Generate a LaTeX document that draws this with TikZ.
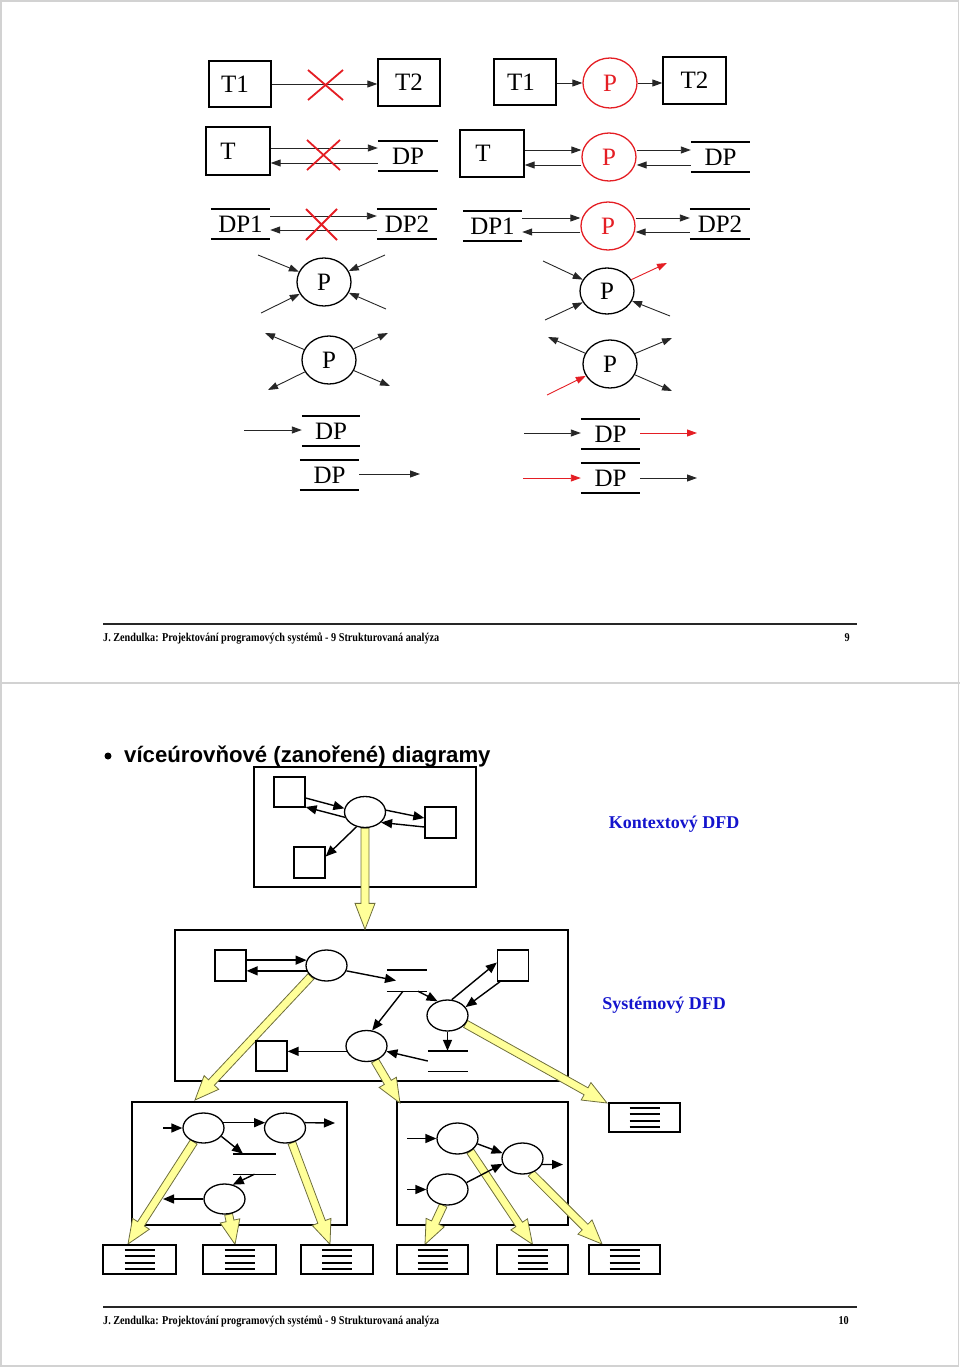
\documentclass[tikz,border=0pt]{standalone}
\usepackage{fontspec}
\setmainfont{Liberation Serif}
\newfontfamily\sansf{Liberation Sans}
\newfontfamily\footf[FakeStretch=0.85]{Liberation Serif}
\usetikzlibrary{arrows.meta,shapes.geometric,calc}
\definecolor{xred}{RGB}{228,30,36}
\definecolor{xblue}{RGB}{20,20,205}
\definecolor{yfill}{RGB}{255,255,153}
\definecolor{yline}{RGB}{110,110,60}
\pgfdeclarelayer{bg}
\pgfdeclarelayer{mid}
\pgfsetlayers{bg,mid,main}
\tikzset{
 big/.style={font=\fontsize{25}{25}\selectfont},
 tbox/.style={draw, line width=1.3pt, inner sep=0, big},
 redp/.style={ellipse, draw=xred, text=xred, line width=1.3pt, inner sep=0, minimum width=54pt, minimum height=48pt, big},
 blkp/.style={ellipse, draw, line width=1.3pt, inner sep=0, minimum width=54pt, minimum height=48pt, big},
 store/.style={inner sep=0, big},
 tarr/.style={line width=0.9pt, draw=black!85, -{Triangle[length=10pt,width=7pt]}},
 rarr/.style={tarr, draw=xred},
 xcr/.style={draw=xred, line width=1.8pt},
 sq/.style={draw, fill=white, line width=1.3pt, inner sep=0, minimum width=31pt, minimum height=30pt},
 ell/.style={ellipse, draw, fill=white, line width=1.3pt, inner sep=0, minimum width=41pt, minimum height=31pt},
 panel/.style={draw, line width=1.3pt, inner sep=0},
 barr/.style={line width=1.4pt, -{Triangle[length=11pt,width=9pt]}},
 rep/.style={draw, fill=white, line width=1.3pt, inner sep=0, minimum width=72pt, minimum height=29pt,
   path picture={\foreach \dy in {9.5,3.5,-3.5,-9.5}{\draw[line width=1.5pt] ([shift={(-15pt,\dy pt)}]path picture bounding box.center) -- ++(30pt,0pt);}}},
 foot/.style={font=\footf\bfseries\fontsize{12}{12}\selectfont, inner sep=0},
 blue/.style={font=\bfseries\fontsize{18}{18}\selectfont, text=xblue, inner sep=0},
}
\newcommand\stlines[2][1.8pt]{\draw[line width=#1] (#2.north west) -- (#2.north east) (#2.south west) -- (#2.south east);}
\newcommand\yarr[3][24pt]{%
 \path (#2) coordinate (ya) (#3) coordinate (yb);
 \path ($(yb)!#1!(ya)$) coordinate (yc);
 \filldraw[fill=yfill, draw=yline, line width=0.8pt] ($(ya)!4pt!90:(yb)$) -- ($(yc)!4pt!-90:(ya)$) -- ($(yc)!10pt!-90:(ya)$) -- (yb) -- ($(yc)!10pt!90:(ya)$) -- ($(yc)!4pt!90:(ya)$) -- ($(ya)!4pt!-90:(yb)$) -- cycle;
}
\begin{document}
\begin{tikzpicture}[x=1pt,y=-1pt]
\useasboundingbox (0,0) rectangle (960,1367);
\draw[gray!35, line width=1.5pt] (1,1) rectangle (958.5,1366);
\draw[gray!35, line width=1.5pt] (0,683) -- (960,683);

% ---------- slide 1 ----------
% row 1 left
\node[tbox, minimum width=62pt, minimum height=46pt] (a1) at (240,84) {T1\kern10pt};
\node[tbox, minimum width=62pt, minimum height=47pt] (a2) at (409,82.5) {T2};
\draw[tarr] (a1.east) -- (a1.east -| a2.west);
\draw[xcr] (308,70) -- (343,100) (308,100) -- (343,70);
% row 1 right
\node[tbox, minimum width=62pt, minimum height=46pt] (b1) at (525,82) {T1\kern8pt};
\node[redp, minimum height=50pt] (bp) at (610,83) {P};
\node[tbox, minimum width=63pt, minimum height=47pt] (b2) at (694.5,80.5) {T2};
\draw[tarr] (b1.east |- bp.west) -- (bp.west);
\draw[tarr] (bp.east) -- (bp.east -| b2.west);
% row 2 left
\node[tbox, minimum width=64pt, minimum height=48pt] (c1) at (238,151) {T\kern20pt};
\node[store, minimum width=60pt, minimum height=30pt] (c2) at (408,156) {DP}; \stlines{c2}
\draw[tarr] (c1.east |- 0,148) -- (c2.west |- 0,148);
\draw[tarr] (c2.west |- 0,163) -- (c1.east |- 0,163);
\draw[xcr] (307,140) -- (340,170) (307,170) -- (340,140);
% row 2 right
\node[tbox, minimum width=64pt, minimum height=47pt] (d1) at (492,153.5) {T\kern18pt};
\node[redp] (dp) at (609,157) {P};
\node[store, minimum width=59pt, minimum height=30pt] (d2) at (720.5,157) {DP}; \stlines{d2}
\draw[tarr] (d1.east |- 0,150) -- (dp.west |- 0,150);
\draw[tarr] (dp.west |- 0,165) -- (d1.east |- 0,165);
\draw[tarr] (dp.east |- 0,150) -- (d2.west |- 0,150);
\draw[tarr] (d2.west |- 0,165) -- (dp.east |- 0,165);
% row 3 left
\node[store, minimum width=59pt, minimum height=30pt] (e1) at (240.5,224) {DP1}; \stlines{e1}
\node[store, minimum width=60pt, minimum height=30pt] (e2) at (407,224) {DP2}; \stlines{e2}
\draw[tarr] (e1.east |- 0,216) -- (e2.west |- 0,216);
\draw[tarr] (e2.west |- 0,230) -- (e1.east |- 0,230);
\draw[xcr] (306,209) -- (337,240) (306,240) -- (337,209);
% row 3 right
\node[store, minimum width=59pt, minimum height=30pt] (f1) at (492.5,226) {DP1}; \stlines{f1}
\node[redp] (fp) at (608,226) {P};
\node[store, minimum width=60pt, minimum height=30pt] (f2) at (720,224) {DP2}; \stlines{f2}
\draw[tarr] (f1.east |- 0,218) -- (fp.west |- 0,218);
\draw[tarr] (fp.west |- 0,232) -- (f1.east |- 0,232);
\draw[tarr] (fp.east |- 0,218) -- (f2.west |- 0,218);
\draw[tarr] (f2.west |- 0,232) -- (fp.east |- 0,232);
% P with inputs
\node[blkp] (g) at (324,282) {P};
\coordinate (g1) at (258,255); \coordinate (g2) at (261,313);
\coordinate (g3) at (385,255); \coordinate (g4) at (386,309);
\draw[tarr] (g1) -- (g); \draw[tarr] (g2) -- (g); \draw[tarr] (g3) -- (g); \draw[tarr] (g4) -- (g);
% P with outputs
\node[blkp] (h) at (329,360) {P};
\coordinate (h1) at (265,333); \coordinate (h2) at (388,333);
\coordinate (h3) at (268,390); \coordinate (h4) at (390,386);
\draw[tarr] (h) -- (h1); \draw[tarr] (h) -- (h2); \draw[tarr] (h) -- (h3); \draw[tarr] (h) -- (h4);
% right P 3
\node[blkp, minimum height=46pt] (i) at (607,291) {P};
\coordinate (i1) at (543,261); \coordinate (i2) at (545,320);
\coordinate (i3) at (667,263); \coordinate (i4) at (670,316);
\draw[tarr] (i1) -- (i); \draw[tarr] (i2) -- (i); \draw[rarr] (i) -- (i3); \draw[tarr] (i4) -- (i);
% right P 4
\node[blkp] (j) at (610,364) {P};
\coordinate (j1) at (548,337); \coordinate (j2) at (672,338);
\coordinate (j3) at (672,391); \coordinate (j4) at (547,395);
\draw[tarr] (j) -- (j1); \draw[tarr] (j) -- (j2); \draw[tarr] (j) -- (j3); \draw[rarr] (j4) -- (j);
% stores with flows
\node[store, minimum width=58pt, minimum height=30pt] (k1) at (331,431) {DP}; \stlines{k1}
\coordinate (k1in) at (244,430); \draw[tarr] (k1in) -- (k1in -| k1.west);
\node[store, minimum width=59pt, minimum height=30pt] (k2) at (329.5,475) {DP}; \stlines{k2}
\coordinate (k2out) at (420,474); \draw[tarr] (k2.east |- k2out) -- (k2out);
\node[store, minimum width=59pt, minimum height=30pt] (l1) at (610.5,434) {DP}; \stlines{l1}
\coordinate (l1in) at (524,433); \draw[tarr] (l1in) -- (l1in -| l1.west);
\coordinate (l1out) at (697,433); \draw[rarr] (l1.east |- l1out) -- (l1out);
\node[store, minimum width=59pt, minimum height=30pt] (l2) at (610.5,478) {DP}; \stlines{l2}
\coordinate (l2in) at (523,478); \draw[rarr] (l2in) -- (l2in -| l2.west);
\coordinate (l2out) at (697,478); \draw[tarr] (l2.east |- l2out) -- (l2out);
% footer 1
\draw[line width=2.2pt, black!85] (103,624) -- (857,624);
\node[foot, anchor=base west] (ft1) at (103,641) {J. Zendulka: Projektování programových systémů - 9 Strukturovaná analýza};
\node[foot, anchor=base east] (pg1) at (850,641) {9};

% ---------- slide 2 ----------
\node[circle, fill, inner sep=0, minimum size=7pt] (bul) at (108,756) {};
\node[anchor=base west, inner sep=0, font=\sansf\bfseries\fontsize{22.2}{22.2}\selectfont] (title) at (124,762) {víceúrovňové (zanořené) diagramy};

\begin{pgfonlayer}{bg}
\node[panel, minimum width=222pt, minimum height=120pt] (ctx) at (365,827) {};
\node[panel, minimum width=393pt, minimum height=151pt] (sys) at (371.5,1005.5) {};
\node[panel, minimum width=215pt, minimum height=123pt] (bl) at (239.5,1163.5) {};
\node[panel, minimum width=171pt, minimum height=123pt] (br) at (482.5,1163.5) {};
\end{pgfonlayer}

% context diagram
\node[sq] (cq1) at (289.5,792) {};
\node[ell] (ce) at (365,812) {};
\node[sq, minimum height=31pt] (cq2) at (440.5,822.5) {};
\node[sq, minimum height=31pt] (cq3) at (309.5,862.5) {};
\draw[barr] ([yshift=-6pt]cq1.east) -- (ce.170);
\draw[barr] (ce.195) -- ([yshift=-15pt]cq1.east);
\draw[barr] (ce.5) -- ([yshift=4.5pt]cq2.west);
\draw[barr] ([yshift=-4.5pt]cq2.west) -- (ce.-33);
\draw[barr] (ce.240) -- ([yshift=6pt]cq3.east);
\node[blue] (kdfd) at (674,824) {Kontextový DFD};

% system diagram
\node[sq, minimum height=31pt] (sA) at (230.5,965.5) {};
\node[ell] (sB) at (326.5,965.5) {};
\node[store, minimum width=40pt, minimum height=21pt] (S1) at (407,980.5) {}; \stlines[1.4pt]{S1}
\node[ell] (sC) at (447.5,1015.5) {};
\node[sq, minimum height=31pt] (sD) at (513,965.5) {};
\node[store, minimum width=40pt, minimum height=20pt] (S2) at (448,1061) {}; \stlines[1.4pt]{S2}
\node[ell] (sE) at (366.5,1046) {};
\node[sq] (sF) at (271.5,1056) {};
\draw[barr] (sA.east |- sB.165) -- (sB.165);
\draw[barr] (sB.195) -- (sB.195 -| sA.east);
\draw[barr] (sB.-15) -- ([xshift=-11pt]S1.center);
\draw[barr] ([xshift=11pt]S1.south) -- (sC.125);
\draw[barr] ([xshift=-4pt]S1.south) -- (sE.70);
\draw[barr] (sC.75) -- ([yshift=3pt]sD.west);
\draw[barr] ([xshift=-13pt]sD.south) -- (sC.25);
\draw[barr] (sC.south) -- (sC.south |- S2.north);
\draw[barr] (S2.west) -- (sE.-15);
\draw[barr] (sE.195) -- (sE.195 -| sF.east);
\node[blue] (sdfd) at (664,1005) {Systémový DFD};

% level 2 left
\node[ell, minimum height=30pt] (bG) at (203.5,1128) {};
\node[ell, minimum height=30pt] (bH) at (285,1128) {};
\node[ell, minimum height=30pt] (bK) at (224.5,1199) {};
\node[store, minimum width=43pt, minimum height=20pt] (S3) at (254.5,1164) {}; \stlines[1.4pt]{S3}
\coordinate (gin) at (163,1128); \draw[barr] (gin) -- (bG.west);
\draw[barr] (bG.15) -- (bH.165);
\coordinate (hout) at (335,1123); \draw[barr] (bH.15) -- (hout);
\draw[barr] (bG.-25) -- ([xshift=-11.5pt]S3.north);
\draw[barr] (S3.south) -- (bK.60);
\coordinate (kout) at (163,1199); \draw[barr] (bK.west) -- (kout);

% level 2 right
\node[ell] (bL) at (457.5,1138.5) {};
\node[ell] (bM) at (522.5,1158.5) {};
\node[ell] (bN) at (447.5,1189.5) {};
\coordinate (lin) at (407,1138.5); \draw[barr] (lin) -- (bL.west);
\coordinate (nin) at (407,1189.5); \draw[barr] (nin) -- (bN.west);
\draw[barr] (bL.-15) -- (bM.165);
\draw[barr] (bN.20) -- (bM.195);
\coordinate (mout) at (563,1164.5); \draw[barr] (bM.-17) -- (mout);

% reports
\node[rep, minimum width=73pt] (R1) at (139.5,1259.5) {};
\node[rep, minimum width=73pt] (R2) at (239.5,1259.5) {};
\node[rep] (R3) at (337,1259.5) {};
\node[rep, minimum width=71pt] (R4) at (432.5,1259.5) {};
\node[rep, minimum width=71pt] (R5) at (532.5,1259.5) {};
\node[rep, minimum width=71pt] (R6) at (624.5,1259.5) {};
\node[rep, minimum width=71pt] (R7) at (644.5,1117.5) {};

% yellow refinement arrows
\begin{pgfonlayer}{mid}
\yarr[26pt]{ce.south}{ce.south |- sys.north}
\coordinate (tB) at (195,1100); \yarr{sB.215}{tB}
\coordinate (tE) at (400,1103); \yarr{sE.-60}{tE}
\coordinate (tC) at (607,1103); \yarr{sC.-25}{tC}
\coordinate (tG) at (128,1244); \yarr{bG.235}{tG}
\yarr{bK.-75}{[xshift=-4.5pt]R2.north}
\yarr{bH.-65}{[xshift=-7pt]R3.north}
\yarr{bL.-45}{R5.north}
\coordinate (tM) at (602,1244); \yarr{bM.-60}{tM}
\yarr{bN.-105}{[xshift=-7.5pt]R4.north}
\end{pgfonlayer}

% footer 2
\draw[line width=2.2pt, black!85] (103,1307) -- (857,1307);
\node[foot, anchor=base west] (ft2) at (103,1324) {J. Zendulka: Projektování programových systémů - 9 Strukturovaná analýza};
\node[foot, anchor=base east] (pg2) at (849,1324) {10};
\end{tikzpicture}
\end{document}
